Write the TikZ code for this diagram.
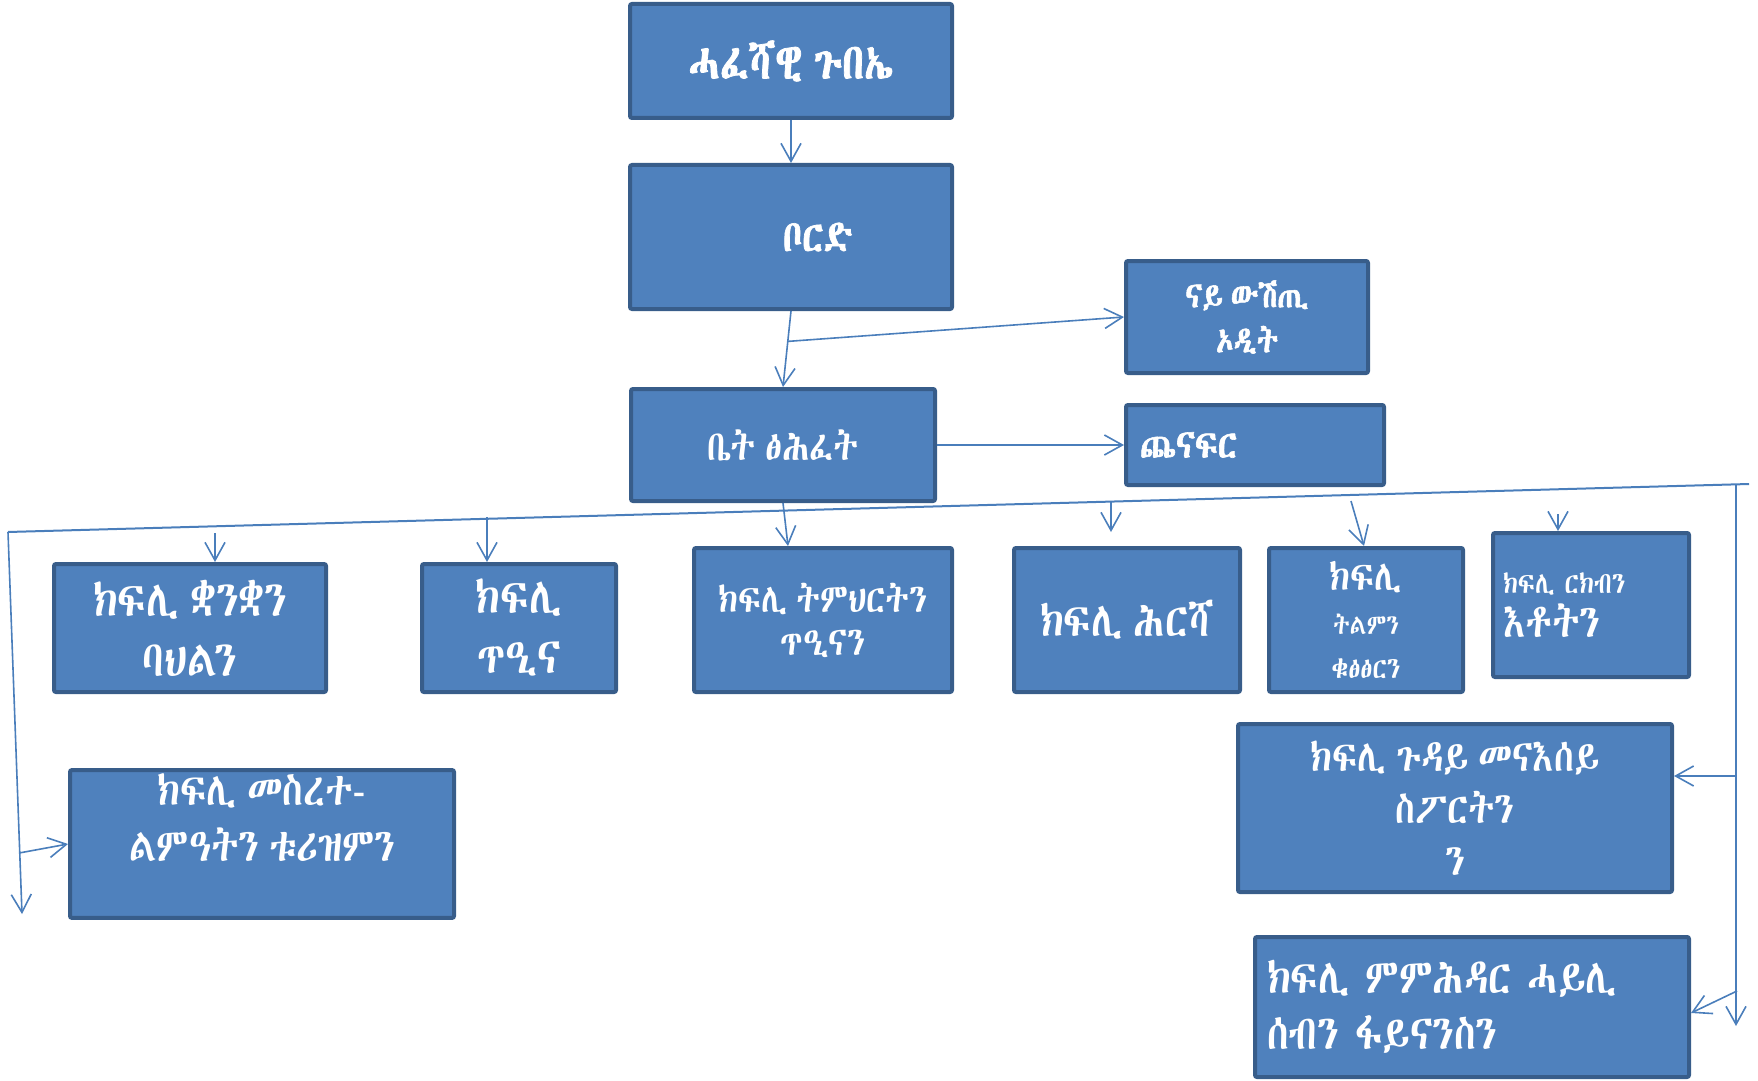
\documentclass[tikz,border=0pt]{standalone}
\usepackage{fontspec}
\IfFontExistsTF{Abyssinica SIL}{\newfontfamily\ethfont[FakeStretch=0.82, WordSpace=0.6, AutoFakeBold=1.5]{Abyssinica SIL}}{%
  \IfFontExistsTF{FreeSerif}{\newfontfamily\ethfont[FakeStretch=0.82, WordSpace=0.6, AutoFakeBold=1.5]{FreeSerif}}{%
    \IfFontExistsTF{FreeSans}{\newfontfamily\ethfont[FakeStretch=0.82, WordSpace=0.6, AutoFakeBold=1.5]{FreeSans}}{%
      \newfontfamily\ethfont{DejaVu Sans}}}}
\usetikzlibrary{arrows.meta, positioning, calc}
\definecolor{boxfill}{HTML}{4F81BD}
\definecolor{boxline}{HTML}{385D8A}
\definecolor{wirecol}{HTML}{4A7EBB}
\tikzset{
    unit/.style={
        rectangle, draw=boxline, line width=2pt, rounded corners=1pt,
        fill=boxfill, text=white, align=center, inner sep=2pt,
        font=\ethfont\fontsize{24}{30}\selectfont
    },
    link/.style={draw=wirecol, line width=0.8pt, -{Straight Barb[length=9pt,width=10pt]}},
    busline/.style={draw=wirecol, line width=1pt}
}
\newcommand{\fs}[2]{\fontsize{#1}{#2}\selectfont}

\begin{document}
\begin{tikzpicture}[x=0.5pt, y=-0.5pt]
\useasboundingbox (0,0) rectangle (1758,1081);

% upper levels
\node[unit, minimum width=161pt, minimum height=57pt, font=\ethfont\bfseries\fs{25}{30}] (council) at (791,61) {ሓፈሻዊ ጉበኤ};
\node[unit, minimum width=161pt, minimum height=72pt, font=\ethfont\bfseries\fs{22}{26}] (board) at (791,237) {\hspace*{27pt}ቦርድ};
\node[unit, minimum width=121pt, minimum height=56pt, font=\ethfont\bfseries\fs{18}{22.5}] (audit) at (1247,317) {ናይ ውሽጢ\\ኦዲት};
\node[unit, minimum width=152pt, minimum height=56pt, font=\ethfont\fs{21}{24}] (sec) at (783,445) {ቤት ፅሕፈት};
\node[unit, minimum width=129pt, minimum height=40pt, text width=115pt, align=left, font=\ethfont\bfseries\fs{20}{22}] (branch) at (1255,445) {ጨናፍር};

% departments
\node[unit, minimum width=136pt, minimum height=64pt, font=\ethfont\fs{25}{30}] (culture) at (190,628) {ክፍሊ ቋንቋን\\ባህልን};
\node[unit, minimum width=97pt, minimum height=64pt, font=\ethfont\fs{25}{30}] (health) at (519,628) {ክፍሊ\\ጥዒና};
\node[unit, minimum width=129pt, minimum height=72pt, font=\ethfont\fs{20}{21.5}] (edu) at (823,620) {ክፍሊ ትምህርትን\\ጥዒናን};
\node[unit, minimum width=113pt, minimum height=72pt, font=\ethfont\fs{24}{28}] (agri) at (1127,620) {ክፍሊ ሕርሻ};
\node[unit, minimum width=97pt, minimum height=72pt, font=\ethfont\fs{14}{22}] (plan) at (1366,620) {{\fs{21}{25}ክፍሊ}\\ትልምን\\{\fs{15}{21}ቁፅፅርን}};
\node[unit, minimum width=98pt, minimum height=72pt, text width=88pt, align=left, font=\ethfont\fs{15}{22}] (comm) at (1591,605) {ክፍሊ ርክብን\\{\fs{23}{24}እቶትን}};
\node[unit, minimum width=192pt, minimum height=72pt, text depth=26pt, font=\ethfont\fs{23}{28}] (infra) at (262,844) {ክፍሊ መስረተ-\\ልምዓትን ቱሪዝምን};
\node[unit, minimum width=217pt, minimum height=84pt, font=\ethfont\fs{22}{26}] (youth) at (1455,808) {ክፍሊ ጉዳይ መናእሰይ\\ስፖርትን\\ን};
\node[unit, minimum width=217pt, minimum height=70pt, text width=205pt, align=left, font=\ethfont\fs{24}{28}] (admin) at (1472,1007) {ክፍሊ ምምሕዳር ሓይሊ\\ሰብን ፋይናንስን};

% bus and tap points
\coordinate (busL) at (8,532);
\coordinate (busR) at (1749,484);
\coordinate (leftEnd) at (22,914);
\coordinate (rightTop) at (1736,485);
\coordinate (rightEnd) at (1736,1026);
\coordinate (tapA) at (215,533);
\coordinate (tapB) at (487,517);
\coordinate (tapC) at (1111,502);
\coordinate (tapD) at (1351,501);
\coordinate (tapE) at (1558,514);
\coordinate (youthTap) at (1736,776);
\coordinate (adminTap) at (1737,991);

\draw[link] (council) -- (board);
\draw[link] (board.south) -- (sec.north);
\draw[link] ($(board.south)!0.4!(sec.north)$) -- (audit.west);
\draw[link] (sec.east) -- (branch.west);

\draw[busline] (busL) -- (busR);
\draw[link] (busL) -- (leftEnd);
\draw[link] ($(busL)!0.84!(leftEnd)$) -- (infra.west);
\draw[link] (rightTop) -- (rightEnd);
\draw[link] (youthTap) -- (youthTap -| youth.east);
\draw[link] (adminTap) -- ([yshift=-3pt]admin.east);

% drops to the departments
\draw[link] (tapA) -- (tapA |- culture.north);
\draw[link] (tapB) -- (tapB |- health.north);
\draw[link] (sec.south) -- ([xshift=48pt]edu.north west);
\draw[link] (tapC) -- ++(0,30);
\draw[link] (tapD) -- ([xshift=-1pt]plan.north);
\draw[link] (tapE) -- (tapE |- comm.north);

\end{tikzpicture}
\end{document}
